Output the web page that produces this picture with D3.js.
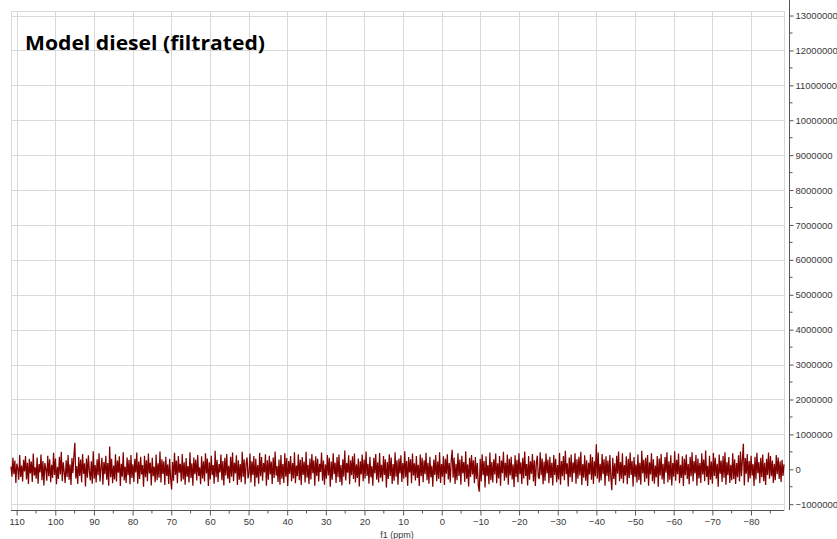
<!DOCTYPE html>
<html>
<head>
<meta charset="utf-8">
<script src="https://cdn.jsdelivr.net/npm/d3@7/dist/d3.min.js"></script>
<style>
  html, body { margin: 0; padding: 0; background: #fff; }
  svg { display: block; }
</style>
</head>
<body>
<svg id="chart" width="837" height="539"></svg>
<script>
// Spectrum title and axis labelling
const chartTitle = "Model diesel (filtrated)";
const xAxisLabel = "f1 (ppm)";

// Spectral window (ppm), high field on the right
const ppmStart = 111.46;
const ppmEnd = -88.54;

// Tick values
const xTickValues = [110, 100, 90, 80, 70, 60, 50, 40, 30, 20, 10, 0, -10, -20, -30, -40, -50, -60, -70, -80];
const yTickValues = [-1000000, 0, 1000000, 2000000, 3000000, 4000000, 5000000, 6000000, 7000000,
                     8000000, 9000000, 10000000, 11000000, 12000000, 13000000];

// Baseline noise of the filtrated sample, intensity in thousands, evenly sampled from ppmStart to ppmEnd
const intensityK = [
  80,-210,330,-140,250,-390,160,40,-300,410,-220,110,-350,270,-60,380,-290,190,-420,300,
  -120,220,-360,450,-180,60,-270,340,-410,150,-90,420,-310,240,-460,180,20,-330,390,-200,
  290,-370,130,-250,470,-160,310,-430,70,-280,360,-150,500,-340,200,-80,-390,260,-220,410,
  -300,140,-450,320,-110,380,760,-260,90,-420,350,-190,280,-370,440,-130,170,-490,310,-240,
  400,-60,-320,230,-410,520,-270,120,-380,290,-170,460,-350,50,330,-440,210,-140,390,-300,
  180,-470,650,-230,300,-400,110,-290,430,-350,250,-100,370,-480,160,-210,490,-320,80,-390,
  340,-170,270,-430,410,-250,140,-360,300,-90,480,-410,220,-280,360,-150,120,-500,390,-230,
  260,-340,450,-120,190,-460,330,-200,80,-370,420,-310,170,-240,510,-380,290,-130,230,-450,
  360,-190,140,-420,300,-270,-580,210,-330,470,-160,250,-400,380,-100,160,-350,440,-290,200,
  -440,320,-210,90,-380,490,-250,170,-470,340,-140,280,-320,410,-190,60,-430,370,-260,230,
  -350,460,-120,310,-480,200,-290,390,-170,120,-410,530,-230,270,-360,150,-90,420,-310,240,
  -460,330,-180,440,-270,100,-390,360,-210,480,-340,190,-120,400,-450,260,-300,150,-370,500,
  -220,290,-430,170,340,-260,-110,450,-380,230,-160,380,-490,300,-240,120,-410,470,-200,350,
  -330,180,-90,430,-470,260,-300,390,-150,220,-420,340,-250,510,-180,90,-360,280,-440,410,
  -270,150,-390,460,-210,320,-480,240,-130,380,-340,180,-260,490,-400,110,-200,430,-310,270,
  -450,350,-160,220,-380,500,-240,130,-420,310,-290,440,-110,260,-470,370,-190,300,-350,160,
  -80,480,-330,250,-440,140,-270,410,-180,330,-500,220,-300,460,-140,190,-390,350,-230,420,
  -360,120,-460,290,-210,540,-320,180,-100,400,-430,260,-170,370,-280,450,-380,140,-250,310,
  -490,230,-150,420,-340,280,-260,510,-190,160,-410,360,-230,90,-470,330,-120,440,-300,200,
  -380,470,-240,130,-350,380,-160,290,-520,210,-280,430,-190,340,-420,150,-330,490,-210,260,
  -440,310,-120,400,-360,180,-270,520,-230,240,-470,350,-90,290,-400,450,-180,170,-320,380,
  -250,130,-480,420,-200,330,-370,260,-140,470,-310,190,-410,360,-230,100,-500,280,-160,410,
  -340,220,-270,490,-390,150,-210,370,-450,300,-130,430,-290,180,-380,250,560,-240,340,-420,
  160,-310,460,-190,280,-440,390,-120,210,-360,520,-270,140,-490,330,-220,410,-150,260,-400,
  350,-280,180,-460,-640,300,-350,430,-170,240,-520,370,-200,120,-430,480,-310,210,-380,290,
  -150,450,-400,170,-260,380,-470,250,-110,500,-330,190,-240,420,-440,300,-180,360,-290,140,
  -510,400,-220,270,-370,460,-140,200,-420,330,-260,510,-190,150,-460,380,-300,230,-130,440,
  -350,260,-480,170,390,-210,-280,490,-170,310,-430,220,-330,450,-120,280,-400,360,-250,190,
  -460,410,-160,300,-370,120,-290,470,-440,240,-200,380,-310,530,-140,170,-490,340,-230,420,
  -360,200,-110,460,-410,290,-270,360,-180,500,-450,150,-240,400,-330,260,-480,190,-150,430,
  -300,350,-420,230,-200,720,-260,480,-380,160,-320,440,-140,290,-470,370,-190,250,-350,410,
  -230,-600,330,-280,170,-450,390,-130,510,-340,210,-270,460,-400,120,-180,370,-430,300,-250,
  480,-160,240,-490,350,-220,140,-380,420,-310,190,-440,530,-120,270,-360,330,-260,410,-470,
  200,-150,460,-340,290,-410,110,-230,380,-500,310,-180,440,-290,160,-420,350,-100,490,-370,
  230,-300,400,-460,180,-210,520,-330,270,-140,450,-400,130,-250,370,-480,300,-170,420,-280,
  150,-430,360,-200,490,-350,240,-120,410,-470,310,-260,180,-390,460,-150,280,-340,540,-220,
  100,-450,390,-300,220,-410,470,-190,330,-270,160,-500,420,-130,250,-360,380,-240,490,-440,
  210,-170,350,-390,130,-310,460,-280,290,-420,180,-230,400,-350,510,-200,270,730,-460,320,
  -130,440,-370,240,-260,390,-180,150,-480,360,-290,470,-110,210,-400,330,-230,420,-340,190,
  -450,300,-160,480,-270,380,-200,250,-390,160,-310,410,-140,340,-280,230,-360,270,-190,140
];

const svg = d3.select("#chart");
const plot = { left: 11, right: 784, top: 11, bottom: 510 };
const yAxisX = 789;

const x = d3.scaleLinear().domain([ppmStart, ppmEnd]).range([plot.left, plot.right]);
const y = d3.scaleLinear().domain([-1166000, 13130000]).range([plot.bottom, plot.top]);

const gridColor = "#d9d9d9";
const axisColor = "#555";
const labelColor = "#3a3a3a";
const tickFont = "Liberation Sans, Arial, sans-serif";

// Plot frame
svg.append("rect")
  .attr("x", plot.left + 0.5).attr("y", plot.top + 0.5)
  .attr("width", plot.right - plot.left).attr("height", plot.bottom - plot.top)
  .attr("fill", "none").attr("stroke", gridColor);

// Grid lines
const grid = svg.append("g").attr("stroke", gridColor).attr("stroke-width", 1);
grid.selectAll("line.v").data(xTickValues).join("line")
  .attr("class", "v")
  .attr("x1", d => Math.round(x(d)) + 0.5).attr("x2", d => Math.round(x(d)) + 0.5)
  .attr("y1", plot.top).attr("y2", plot.bottom);
grid.selectAll("line.h").data(yTickValues).join("line")
  .attr("class", "h")
  .attr("y1", d => Math.round(y(d)) + 0.5).attr("y2", d => Math.round(y(d)) + 0.5)
  .attr("x1", plot.left).attr("x2", plot.right);

// Spectrum trace
const step = (ppmEnd - ppmStart) / (intensityK.length - 1);
const line = d3.line()
  .x((d, i) => x(ppmStart + i * step))
  .y(d => y(d * 1000));
svg.append("path")
  .datum(intensityK)
  .attr("d", line)
  .attr("fill", "none")
  .attr("stroke", "#800000")
  .attr("stroke-width", 1.25)
  .attr("stroke-linejoin", "miter");

// X axis (bottom)
const xMinor = d3.range(110, -90, -5).filter(v => v % 10 !== 0);
const xAxis = d3.axisBottom(x).tickValues(xTickValues).tickSize(5).tickPadding(3)
  .tickFormat(d3.format("d"));
const gx = svg.append("g").attr("transform", `translate(0,${plot.bottom + 0.5})`).call(xAxis);
gx.select(".domain").attr("stroke", axisColor).attr("d", `M${plot.left},0H${plot.right}`);
gx.selectAll(".tick line").attr("stroke", axisColor);
gx.selectAll(".tick text").attr("fill", labelColor).style("font", `9.5px ${tickFont}`);
gx.selectAll("line.minor").data(xMinor).join("line")
  .attr("class", "minor")
  .attr("x1", d => x(d)).attr("x2", d => x(d))
  .attr("y1", 0).attr("y2", 3)
  .attr("stroke", axisColor);

svg.append("text")
  .attr("x", 397).attr("y", 538)
  .attr("text-anchor", "middle")
  .attr("fill", labelColor)
  .style("font", `9px ${tickFont}`)
  .text(xAxisLabel);

// Y axis (right)
const yMinor = d3.range(-500000, 13000001, 1000000);
const yAxis = d3.axisRight(y).tickValues(yTickValues).tickSize(4).tickPadding(2)
  .tickFormat(d3.format("d"));
const gy = svg.append("g").attr("transform", `translate(${yAxisX + 0.5},0)`).call(yAxis);
gy.select(".domain").attr("stroke", axisColor).attr("d", `M0,0V${plot.bottom}`);
gy.selectAll(".tick line").attr("stroke", axisColor);
gy.selectAll(".tick text").attr("fill", labelColor).style("font", `9.5px ${tickFont}`);
gy.selectAll("line.minor").data(yMinor).join("line")
  .attr("class", "minor")
  .attr("y1", d => y(d)).attr("y2", d => y(d))
  .attr("x1", 0).attr("x2", 3)
  .attr("stroke", axisColor);

// Title
svg.append("text")
  .attr("x", 25).attr("y", 50)
  .attr("fill", "#000")
  .attr("textLength", 240)
  .attr("lengthAdjust", "spacingAndGlyphs")
  .style("font", "bold 20px 'Open Sans', 'Noto Sans', sans-serif")
  .text(chartTitle);
</script>
</body>
</html>
